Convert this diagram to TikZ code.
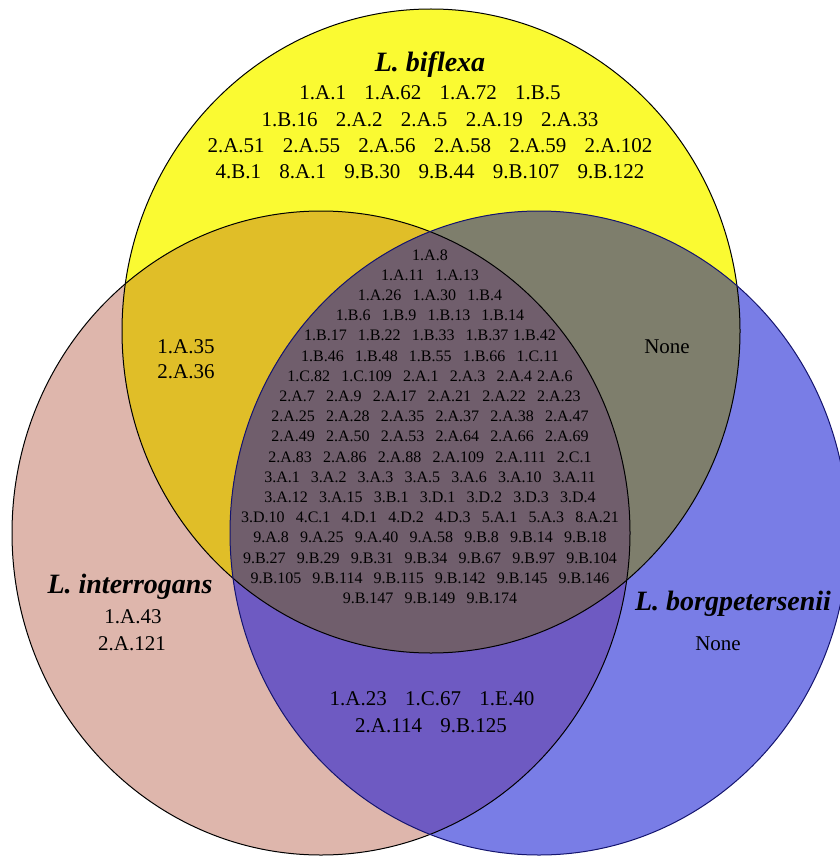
\documentclass[tikz,border=0pt]{standalone}
\usepackage{fontspec}
\setmainfont{Liberation Serif}
\definecolor{cy}{RGB}{250,250,50}
\definecolor{cp}{RGB}{222,182,172}
\definecolor{cb}{RGB}{121,125,230}
\definecolor{cyp}{RGB}{224,190,40}
\definecolor{cyb}{RGB}{126,126,108}
\definecolor{cpb}{RGB}{110,90,194}
\definecolor{cypb}{RGB}{112,94,108}
\definecolor{navy}{RGB}{20,20,110}
\newcommand{\gp}{\hspace{0.87em}}
\newcommand{\gs}{\hspace{0.7em}}
\tikzset{
  title/.style={font=\fontsize{28}{30}\selectfont\bfseries\itshape, anchor=base, inner sep=0pt},
  big/.style={font=\fontsize{21}{25}\selectfont, anchor=base, inner sep=0pt},
  small/.style={font=\fontsize{16}{20}\selectfont, anchor=base, inner sep=0pt},
}
\begin{document}
\begin{tikzpicture}[x=1pt,y=-1pt]
\useasboundingbox (0,0) rectangle (839,856);
\def\Y{(431,331) ellipse [x radius=309pt, y radius=322pt]}
\def\P{(321,533) ellipse [x radius=309pt, y radius=322pt]}
\def\B{(539,533) ellipse [x radius=309pt, y radius=322pt]}
\fill[cy] \Y;
\fill[cp] \P;
\fill[cb] \B;
\begin{scope}\clip \Y; \fill[cyp] \P; \end{scope}
\begin{scope}\clip \Y; \fill[cyb] \B; \end{scope}
\begin{scope}\clip \P; \fill[cpb] \B; \end{scope}
\begin{scope}\clip \Y; \clip \P; \fill[cypb] \B; \end{scope}
\draw[black, line width=1pt] \Y;
\draw[black, line width=1pt] \P;
\draw[navy, line width=1pt] \B;

% titles
\node[title] (tb) at (430,72) {L. biflexa};
\node[title] (ti) at (130,593) {L. interrogans};
\node[title] (tg) at (733,610) {L. borgpetersenii};

% L. biflexa only
\foreach \t [count=\i] in {
  {1.A.1\gp 1.A.62\gp 1.A.72\gp 1.B.5},
  {1.B.16\gp 2.A.2\gp 2.A.5\gp 2.A.19\gp 2.A.33},
  {2.A.51\gp 2.A.55\gp 2.A.56\gp 2.A.58\gp 2.A.59\gp 2.A.102},
  {4.B.1\gp 8.A.1\gp 9.B.30\gp 9.B.44\gp 9.B.107\gp 9.B.122}}
  \node[big] (b\i) at (430,{100+26.3*(\i-1)}) {\t};

% biflexa + interrogans
\node[big] (yp1) at (186,353) {1.A.35};
\node[big] (yp2) at (186,378) {2.A.36};
% biflexa + borgpetersenii
\node[big] (yb1) at (667,353) {None};
% interrogans only
\node[big] (p1) at (133,623) {1.A.43};
\node[big] (p2) at (132,650) {2.A.121};
% borgpetersenii only
\node[big] (g1) at (718,650) {None};
% interrogans + borgpetersenii
\node[big] (pb1) at (432,705) {1.A.23\gp 1.C.67\gp 1.E.40};
\node[big] (pb2) at (431,732) {2.A.114\gp 9.B.125};

% all three
\foreach \t [count=\i] in {
  {1.A.8},
  {1.A.11\gs 1.A.13},
  {1.A.26\gs 1.A.30\gs 1.B.4},
  {1.B.6\gs 1.B.9\gs 1.B.13\gs 1.B.14},
  {1.B.17\gs 1.B.22\gs 1.B.33\gs 1.B.37\hspace{0.3em}1.B.42},
  {1.B.46\gs 1.B.48\gs 1.B.55\gs 1.B.66\gs 1.C.11},
  {1.C.82\gs 1.C.109\gs 2.A.1\gs 2.A.3\gs 2.A.4\hspace{0.3em}2.A.6},
  {2.A.7\gs 2.A.9\gs 2.A.17\gs 2.A.21\gs 2.A.22\gs 2.A.23},
  {2.A.25\gs 2.A.28\gs 2.A.35\gs 2.A.37\gs 2.A.38\gs 2.A.47},
  {2.A.49\gs 2.A.50\gs 2.A.53\gs 2.A.64\gs 2.A.66\gs 2.A.69},
  {2.A.83\gs 2.A.86\gs 2.A.88\gs 2.A.109\gs 2.A.111\gs 2.C.1},
  {3.A.1\gs 3.A.2\gs 3.A.3\gs 3.A.5\gs 3.A.6\gs 3.A.10\gs 3.A.11},
  {3.A.12\gs 3.A.15\gs 3.B.1\gs 3.D.1\gs 3.D.2\gs 3.D.3\gs 3.D.4},
  {3.D.10\gs 4.C.1\gs 4.D.1\gs 4.D.2\gs 4.D.3\gs 5.A.1\gs 5.A.3\gs 8.A.21},
  {9.A.8\gs 9.A.25\gs 9.A.40\gs 9.A.58\gs 9.B.8\gs 9.B.14\gs 9.B.18},
  {9.B.27\gs 9.B.29\gs 9.B.31\gs 9.B.34\gs 9.B.67\gs 9.B.97\gs 9.B.104},
  {9.B.105\gs 9.B.114\gs 9.B.115\gs 9.B.142\gs 9.B.145\gs 9.B.146},
  {9.B.147\gs 9.B.149\gs 9.B.174}}
  \node[small] (c\i) at (430,{260+20.2*(\i-1)}) {\t};
\end{tikzpicture}
\end{document}
